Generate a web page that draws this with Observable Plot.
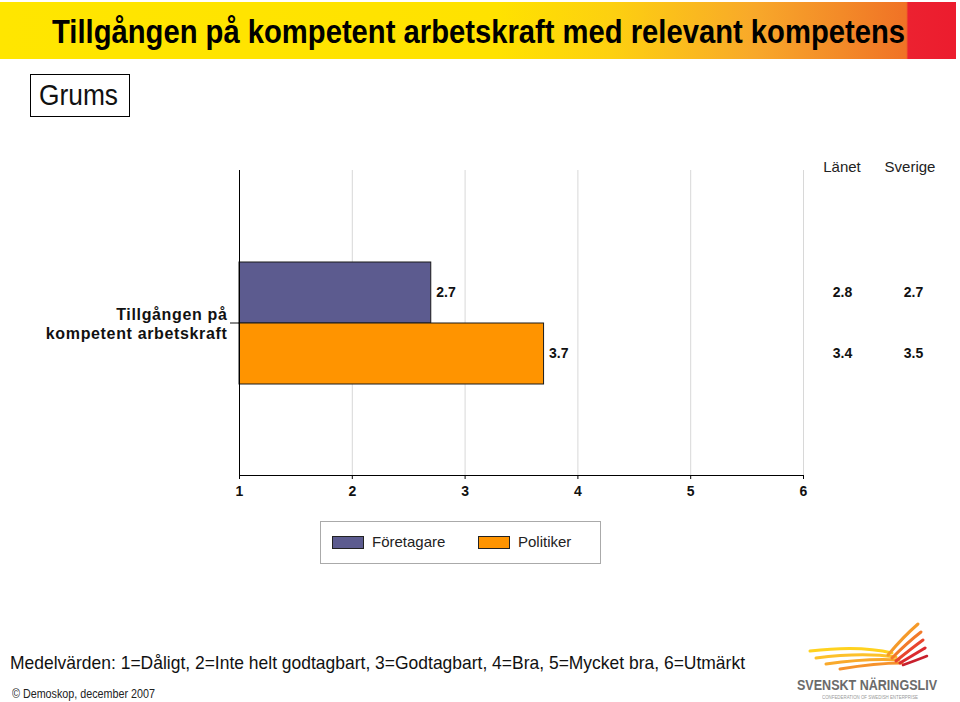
<!DOCTYPE html>
<html><head><meta charset="utf-8">
<script src="https://cdn.jsdelivr.net/npm/d3@7"></script>
<script src="https://cdn.jsdelivr.net/npm/@observablehq/plot@0.6"></script>
<style>
body{margin:0;background:#fff;font-family:"Liberation Sans",Arial,sans-serif;color:#111;}
#page{position:relative;width:960px;height:702px;overflow:hidden;background:#fff;}
.abs{position:absolute;white-space:nowrap;}
.fit{display:inline-block;transform-origin:left top;}
#titlebar{left:0;top:2px;width:956px;height:57px;
 background:linear-gradient(to right,#FFE600 0%,#FFE200 52%,#FDD010 64%,#F8A82A 79%,#F38A28 88%,#F07226 94.8%,#EC2130 95%,#EC1C2E 100%);}
#title{left:52px;top:15px;font-family:"Liberation Sans Narrow","Arial Narrow","Liberation Sans",sans-serif;font-weight:bold;font-size:33px;line-height:33px;color:#000;}
#grumsbox{left:30px;top:74px;width:98px;height:41px;border:1.5px solid #000;}
#grums{left:39px;top:81px;font-family:"Liberation Sans Narrow","Arial Narrow","Liberation Sans",sans-serif;font-size:29px;line-height:29px;}
.colhead{top:159px;font-size:15px;line-height:15px;color:#222;transform:translateX(-50%);}
#chart{left:0;top:150px;}
#chart g[aria-label="fy-axis tick label"] text{letter-spacing:0.65px;}
#legend{left:320px;top:521px;width:281px;height:43px;border:1.5px solid #aaa;box-sizing:border-box;}
.sw{position:absolute;top:14px;width:30px;height:11px;border:1px solid #222;}
.lt{position:absolute;top:12px;font-size:15px;line-height:15px;color:#222;}
#foot{left:10px;top:653px;font-size:19px;line-height:19px;color:#111;}
#copy{left:12px;top:688px;font-size:12px;line-height:12px;color:#222;}
#logotext{left:797px;top:678px;font-weight:bold;font-size:14px;line-height:14px;color:#6b6b6b;}
#logosub{left:822px;top:695px;font-size:5px;line-height:5px;color:#999;}
</style></head><body><div id="page">
<div id="titlebar" class="abs"></div>
<div id="title" class="abs"><span class="fit" data-w="853">Tillgången på kompetent arbetskraft med relevant kompetens</span></div>
<div id="grumsbox" class="abs"></div>
<div id="grums" class="abs"><span class="fit" data-w="79">Grums</span></div>
<div id="heads"></div>
<div id="chart" class="abs"></div>
<div id="legend" class="abs"></div>
<div id="foot" class="abs"><span class="fit" data-w="735">Medelvärden: 1=Dåligt, 2=Inte helt godtagbart, 3=Godtagbart, 4=Bra, 5=Mycket bra, 6=Utmärkt</span></div>
<div id="copy" class="abs"><span class="fit" data-w="143">© Demoskop, december 2007</span></div>
<svg class="abs" style="left:790px;top:615px" width="160" height="62" viewBox="0 0 160 62">
 <g fill="none" stroke-linecap="round">
  <path d="M20 36 Q70 30 102 38" stroke="#FFD21F" stroke-width="3"/>
  <path d="M26 43 Q72 37 106 42" stroke="#FDC12A" stroke-width="3"/>
  <path d="M36 49 Q78 43 109 45" stroke="#F9A92B" stroke-width="3"/>
  <path d="M50 54 Q86 48 112 48" stroke="#F6922B" stroke-width="3"/>
  <path d="M98 40 Q113 22 128 9" stroke="#F59A2A" stroke-width="3"/>
  <path d="M102 43 Q118 27 131 17" stroke="#F27A2A" stroke-width="3"/>
  <path d="M106 46 Q122 33 133 25" stroke="#E8452D" stroke-width="3"/>
  <path d="M110 48 Q125 39 135 33" stroke="#DB2A2E" stroke-width="3"/>
  <path d="M113 50 Q127 45 137 41" stroke="#C8202D" stroke-width="2.5"/>
 </g>
</svg>
<div id="logotext" class="abs"><span class="fit" data-w="140">SVENSKT NÄRINGSLIV</span></div>
<div id="logosub" class="abs"><span class="fit" data-w="96">CONFEDERATION OF SWEDISH ENTERPRISE</span></div>
</div>
<script>
// ---- data ----
const categories = ["Tillgången på\nkompetent arbetskraft"];
const series = ["Företagare", "Politiker"];
const grumsValues = [2.7, 3.7];
const lanetValues = [2.8, 3.4];
const sverigeValues = [2.7, 3.5];
const columnHeaders = ["Länet", "Sverige"];
const seriesColors = ["#5C5B8F", "#FF9400"];
const xTicks = [1, 2, 3, 4, 5, 6];

const rows = series.map((s, i) => ({
  category: categories[0], series: s,
  value: grumsValues[i], lanet: lanetValues[i], sverige: sverigeValues[i]
}));

const fmt = d => d.toFixed(1);
const chart = Plot.plot({
  width: 960, height: 360,
  marginLeft: 239, marginRight: 157, marginTop: 20, marginBottom: 35,
  style: {fontFamily: "Liberation Sans, Arial, sans-serif", color: "#111", background: "transparent"},
  x: {domain: [1, 6]},
  y: {domain: series, paddingInner: 0, paddingOuter: 1.46, axis: null},
  fy: {domain: categories, padding: 0},
  color: {domain: series, range: seriesColors},
  marks: [
    Plot.gridX(xTicks.slice(1), {stroke: "#d8d8d8", strokeOpacity: 1}),
    Plot.barX(rows, {x1: 1, x2: "value", y: "series", fy: "category", fill: "series", stroke: "#1a1a1a", strokeWidth: 1}),
    Plot.text(rows, {x: "value", y: "series", fy: "category", text: d => fmt(d.value), textAnchor: "start", dx: 5, fontWeight: "bold", fontSize: 14, fill: "#111"}),
    Plot.text(rows, {frameAnchor: "right", y: "series", fy: "category", text: d => fmt(d.lanet), textAnchor: "middle", dx: 39, fontWeight: "bold", fontSize: 14, fill: "#111"}),
    Plot.text(rows, {frameAnchor: "right", y: "series", fy: "category", text: d => fmt(d.sverige), textAnchor: "middle", dx: 110, fontWeight: "bold", fontSize: 14, fill: "#111"}),
    Plot.frame({anchor: "left", stroke: "#000"}),
    Plot.frame({anchor: "bottom", stroke: "#000"}),
    Plot.axisX({ticks: xTicks, tickSize: 4, tickPadding: 7, tickFormat: d => d, fontWeight: "bold", fontSize: 14, label: null, stroke: "#000"}),
    Plot.axisFy({anchor: "left", tickSize: 9, tickPadding: 3, label: null, fontWeight: "bold", fontSize: 16, lineHeight: 1.2, fill: "#111"})
  ]
});
document.getElementById("chart").appendChild(chart);

// column headers
const heads = document.getElementById("heads");
const headX = [842, 910];
columnHeaders.forEach((h, i) => {
  const d = document.createElement("div");
  d.className = "abs colhead"; d.style.left = headX[i] + "px"; d.textContent = h;
  heads.appendChild(d);
});

// legend
const legend = document.getElementById("legend");
const swX = [11, 157];
series.forEach((s, i) => {
  const sw = document.createElement("div");
  sw.className = "sw"; sw.style.left = swX[i] + "px"; sw.style.background = seriesColors[i];
  legend.appendChild(sw);
  const t = document.createElement("div");
  t.className = "lt"; t.style.left = (swX[i] + 40) + "px"; t.textContent = s;
  legend.appendChild(t);
});

// fit text widths
document.querySelectorAll(".fit").forEach(el => {
  const w = el.getBoundingClientRect().width;
  const target = +el.dataset.w;
  if (w > 0) el.style.transform = `scaleX(${target / w})`;
});
</script>
</body></html>
